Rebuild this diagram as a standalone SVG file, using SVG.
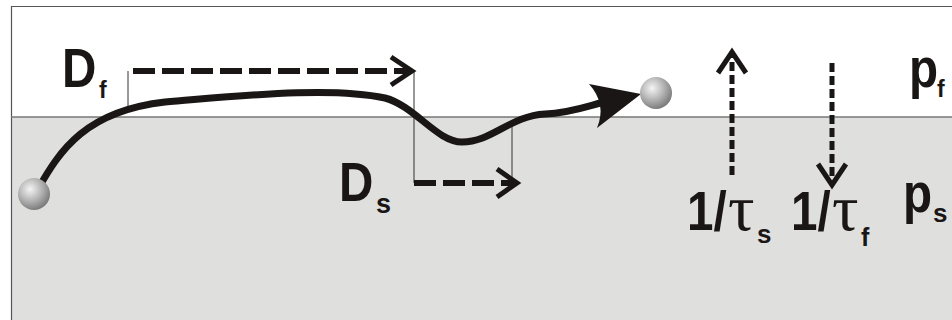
<svg xmlns="http://www.w3.org/2000/svg" width="952" height="320" viewBox="0 0 952 320">
  <defs>
    <radialGradient id="ballGrad" cx="0.38" cy="0.35" r="0.7">
      <stop offset="0" stop-color="#f4f4f4"/>
      <stop offset="0.45" stop-color="#bdbdbd"/>
      <stop offset="1" stop-color="#757575"/>
    </radialGradient>
  </defs>
  <style>
    .big { font-family: "Liberation Sans", Arial, sans-serif; font-weight: bold; font-size: 56px; fill: #1a1616; }
    .sub { font-family: "Liberation Sans", Arial, sans-serif; font-weight: bold; fill: #1a1616; }
    .greek { font-family: "Liberation Serif", "Times New Roman", serif; font-size: 66px; fill: #1a1616; }
    .dashH { fill: none; stroke: #1a1616; stroke-width: 6; stroke-dasharray: 22 7; }
    .dashV { fill: none; stroke: #1a1616; stroke-width: 5; stroke-dasharray: 9 4; }
    .chev { fill: none; stroke: #1a1616; stroke-width: 5; stroke-linejoin: miter; stroke-linecap: butt; }
    .thin { fill: none; stroke: #333; stroke-width: 1; }
    .path { fill: none; stroke: #1a1616; stroke-width: 7; stroke-linecap: round; }
    .ball { fill: url(#ballGrad); }
  </style>

  <g id="layers">
    <rect x="0" y="0" width="952" height="320" fill="#ffffff"/>
    <rect x="11" y="117" width="945" height="210" fill="#dfdfdd"/>
    <path d="M11.5,330 V6.5 H960" fill="none" stroke="#555" stroke-width="1.2"/>
    <line x1="11" y1="117" x2="960" y2="117" stroke="#777" stroke-width="1.5"/>
  </g>

  <g id="connectors">
    <line class="thin" x1="128" y1="71" x2="128" y2="108"/>
    <line class="thin" x1="414" y1="71" x2="414" y2="183"/>
    <line class="thin" x1="512" y1="123" x2="512" y2="183"/>
    <line class="dashH" x1="133" y1="71" x2="408" y2="71"/>
    <polyline class="chev" points="391,57 412,71 391,85"/>
    <line class="dashH" x1="414" y1="183" x2="513" y2="183"/>
    <polyline class="chev" points="497,169 517,183 497,197"/>
    <line class="dashV" x1="732" y1="175" x2="732" y2="54"/>
    <polyline class="chev" points="718,73 732,52 746,73"/>
    <line class="dashV" x1="832" y1="63" x2="832" y2="183"/>
    <polyline class="chev" points="818,164 832,185 846,164"/>
    <path class="path" d="M38,189 C60,150 86,111 165,102 C240,96 330,86 385,98 C415,106 437,142 462,142 C492,142 510,116 545,114 C568,113 585,107 600,103"/>
    <path d="M641,94 L589,84 Q607,104 597,128 Z" fill="#1a1616"/>
  </g>

  <g id="ball-start">
    <circle class="ball" cx="34" cy="194" r="16"/>
  </g>
  <g id="ball-end">
    <circle class="ball" cx="656" cy="93" r="16"/>
  </g>

  <g id="label-Df">
    <text class="big" transform="translate(62,87) scale(0.85,1)">D</text>
    <text class="sub" x="99" y="98" font-size="23">f</text>
  </g>
  <g id="label-Ds">
    <text class="big" transform="translate(339,201) scale(0.85,1)">D</text>
    <text class="sub" x="376" y="213" font-size="27">s</text>
  </g>
  <g id="label-tau-s">
    <text class="big" transform="translate(687,230) scale(0.85,1)">1/</text>
    <text class="greek" x="728" y="230">τ</text>
    <text class="sub" x="757" y="243" font-size="26">s</text>
  </g>
  <g id="label-tau-f">
    <text class="big" transform="translate(791,230) scale(0.85,1)">1/</text>
    <text class="greek" x="832" y="230">τ</text>
    <text class="sub" x="861" y="246" font-size="25">f</text>
  </g>
  <g id="label-pf">
    <text class="big" transform="translate(909,87) scale(0.85,1)">p</text>
    <text class="sub" x="937" y="97" font-size="23">f</text>
  </g>
  <g id="label-ps">
    <text class="big" transform="translate(903,212) scale(0.85,1)">p</text>
    <text class="sub" x="933" y="222" font-size="26">s</text>
  </g>
</svg>
